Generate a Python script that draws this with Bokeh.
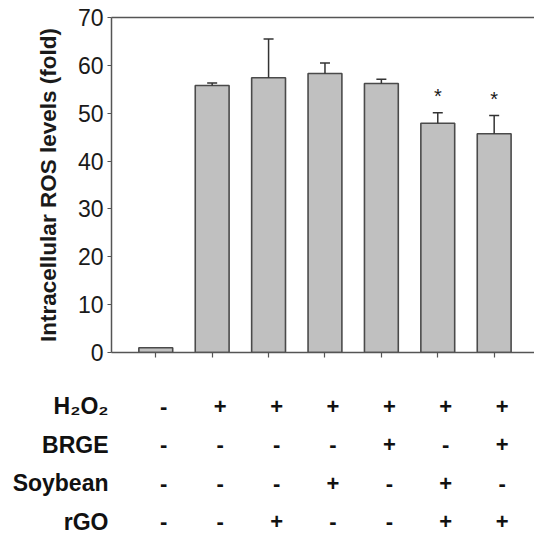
from bokeh.plotting import figure
from bokeh.models import Range1d, LinearAxis, FixedTicker, ColumnDataSource, Whisker, TeeHead
from bokeh.layouts import column
from bokeh.core.properties import value
from bokeh.embed import file_html
from bokeh.resources import INLINE

# ---- data ----
groups = [0, 1, 2, 3, 4, 5, 6]
ros_mean = [1.0, 55.8, 57.4, 58.3, 56.2, 47.9, 45.7]
ros_err = [0.0, 0.5, 8.1, 2.2, 0.9, 2.2, 3.8]
significant = [False, False, False, False, False, True, True]
y_ticks = [0, 10, 20, 30, 40, 50, 60, 70]

row_labels = ["H₂O₂", "BRGE", "Soybean", "rGO"]
h2o2 = ["-", "+", "+", "+", "+", "+", "+"]
brge = ["-", "-", "-", "-", "+", "-", "+"]
soybean = ["-", "-", "-", "+", "-", "+", "-"]
rgo = ["-", "-", "+", "-", "-", "+", "+"]

FONT = "Liberation Sans"
AXIS_COL = "#555555"
TEXT_COL = "#1a1a1a"

x_range = Range1d(-0.785, 6.715)

# ---- main bar chart ----
p = figure(width=534, height=370, x_range=x_range, y_range=Range1d(0, 70),
           output_backend="svg", toolbar_location=None,
           min_border_left=111, min_border_right=0, min_border_top=17, min_border_bottom=18)
p.outline_line_color = None
p.grid.visible = False
p.background_fill_color = "white"

src = ColumnDataSource(dict(x=groups, top=ros_mean))
p.vbar(x="x", top="top", bottom=0, width=0.6, source=src,
       fill_color="#c0c0c0", line_color="#4a4a4a", line_width=1.6)

ex = [g for g, e in zip(groups, ros_err) if e > 0]
elo = [m for m, e in zip(ros_mean, ros_err) if e > 0]
ehi = [m + e for m, e in zip(ros_mean, ros_err) if e > 0]
esrc = ColumnDataSource(dict(base=ex, lower=elo, upper=ehi))
wh = Whisker(source=esrc, base="base", lower="lower", upper="upper", dimension="height",
             line_color="#333333", line_width=1.5, lower_head=None,
             upper_head=TeeHead(size=10, line_color="#333333", line_width=1.5), level="overlay")
p.add_layout(wh)

sx = [g for g, s in zip(groups, significant) if s]
sy = [m + e + 3.4 for m, e, s in zip(ros_mean, ros_err, significant) if s]
p.text(x=sx, y=sy, text=["*"] * len(sx), text_align="center", text_baseline="middle",
       text_font=value(FONT), text_font_size="20px", text_color=TEXT_COL)

yax = p.yaxis[0]
yax.ticker = FixedTicker(ticks=y_ticks)
yax.minor_tick_line_color = None
yax.major_tick_in = 0
yax.major_tick_out = 4
yax.axis_line_color = AXIS_COL
yax.axis_line_width = 1.5
yax.major_tick_line_color = AXIS_COL
yax.major_tick_line_width = 1.2
yax.major_label_text_font = FONT
yax.major_label_text_font_size = "23px"
yax.major_label_text_color = TEXT_COL
yax.major_label_standoff = 4
yax.axis_label = "Intracellular ROS levels (fold)"
yax.axis_label_text_font = FONT
yax.axis_label_text_font_size = "22.5px"
yax.axis_label_text_font_style = "bold"
yax.axis_label_text_color = TEXT_COL
yax.axis_label_standoff = 14

xax = p.xaxis[0]
xax.ticker = FixedTicker(ticks=groups)
xax.minor_tick_line_color = None
xax.major_tick_in = 0
xax.major_tick_out = 5
xax.axis_line_color = AXIS_COL
xax.axis_line_width = 1.5
xax.major_tick_line_color = AXIS_COL
xax.major_tick_line_width = 1.2
xax.major_label_overrides = {g: "" for g in groups}
xax.major_label_standoff = 0

top_axis = LinearAxis(ticker=FixedTicker(ticks=[]), major_tick_line_color=None,
                      minor_tick_line_color=None, major_label_standoff=0,
                      major_tick_out=0, major_tick_in=0,
                      axis_line_color=AXIS_COL, axis_line_width=1.5)
p.add_layout(top_axis, "above")

# ---- condition table ----
t = figure(width=534, height=164, x_range=x_range, y_range=Range1d(-0.33, 3.935),
           output_backend="svg", toolbar_location=None, x_axis_location=None,
           min_border_left=111, min_border_right=0, min_border_top=0, min_border_bottom=0)
t.outline_line_color = None
t.grid.visible = False

rows = [h2o2, brge, soybean, rgo]
row_y = [3, 2, 1, 0]
tx, ty, tt = [], [], []
for yv, row in zip(row_y, rows):
    for g, s in zip(groups, row):
        tx.append(g)
        ty.append(yv)
        tt.append(s)
t.text(x=tx, y=ty, text=tt, x_offset=8, text_align="center", text_baseline="middle",
       text_font=value(FONT), text_font_size="22px", text_font_style="bold", text_color="#111111")

tax = t.yaxis[0]
tax.ticker = FixedTicker(ticks=row_y)
tax.major_label_overrides = {yv: lab for yv, lab in zip(row_y, row_labels)}
tax.axis_line_color = None
tax.major_tick_line_color = None
tax.minor_tick_line_color = None
tax.major_tick_out = 0
tax.major_tick_in = 0
tax.major_label_standoff = 3
tax.major_label_text_font = FONT
tax.major_label_text_font_size = "23px"
tax.major_label_text_font_style = "bold"
tax.major_label_text_color = "#111111"

layout = column(p, t, spacing=0)
open("out.html", "w").write(file_html(layout, INLINE))
